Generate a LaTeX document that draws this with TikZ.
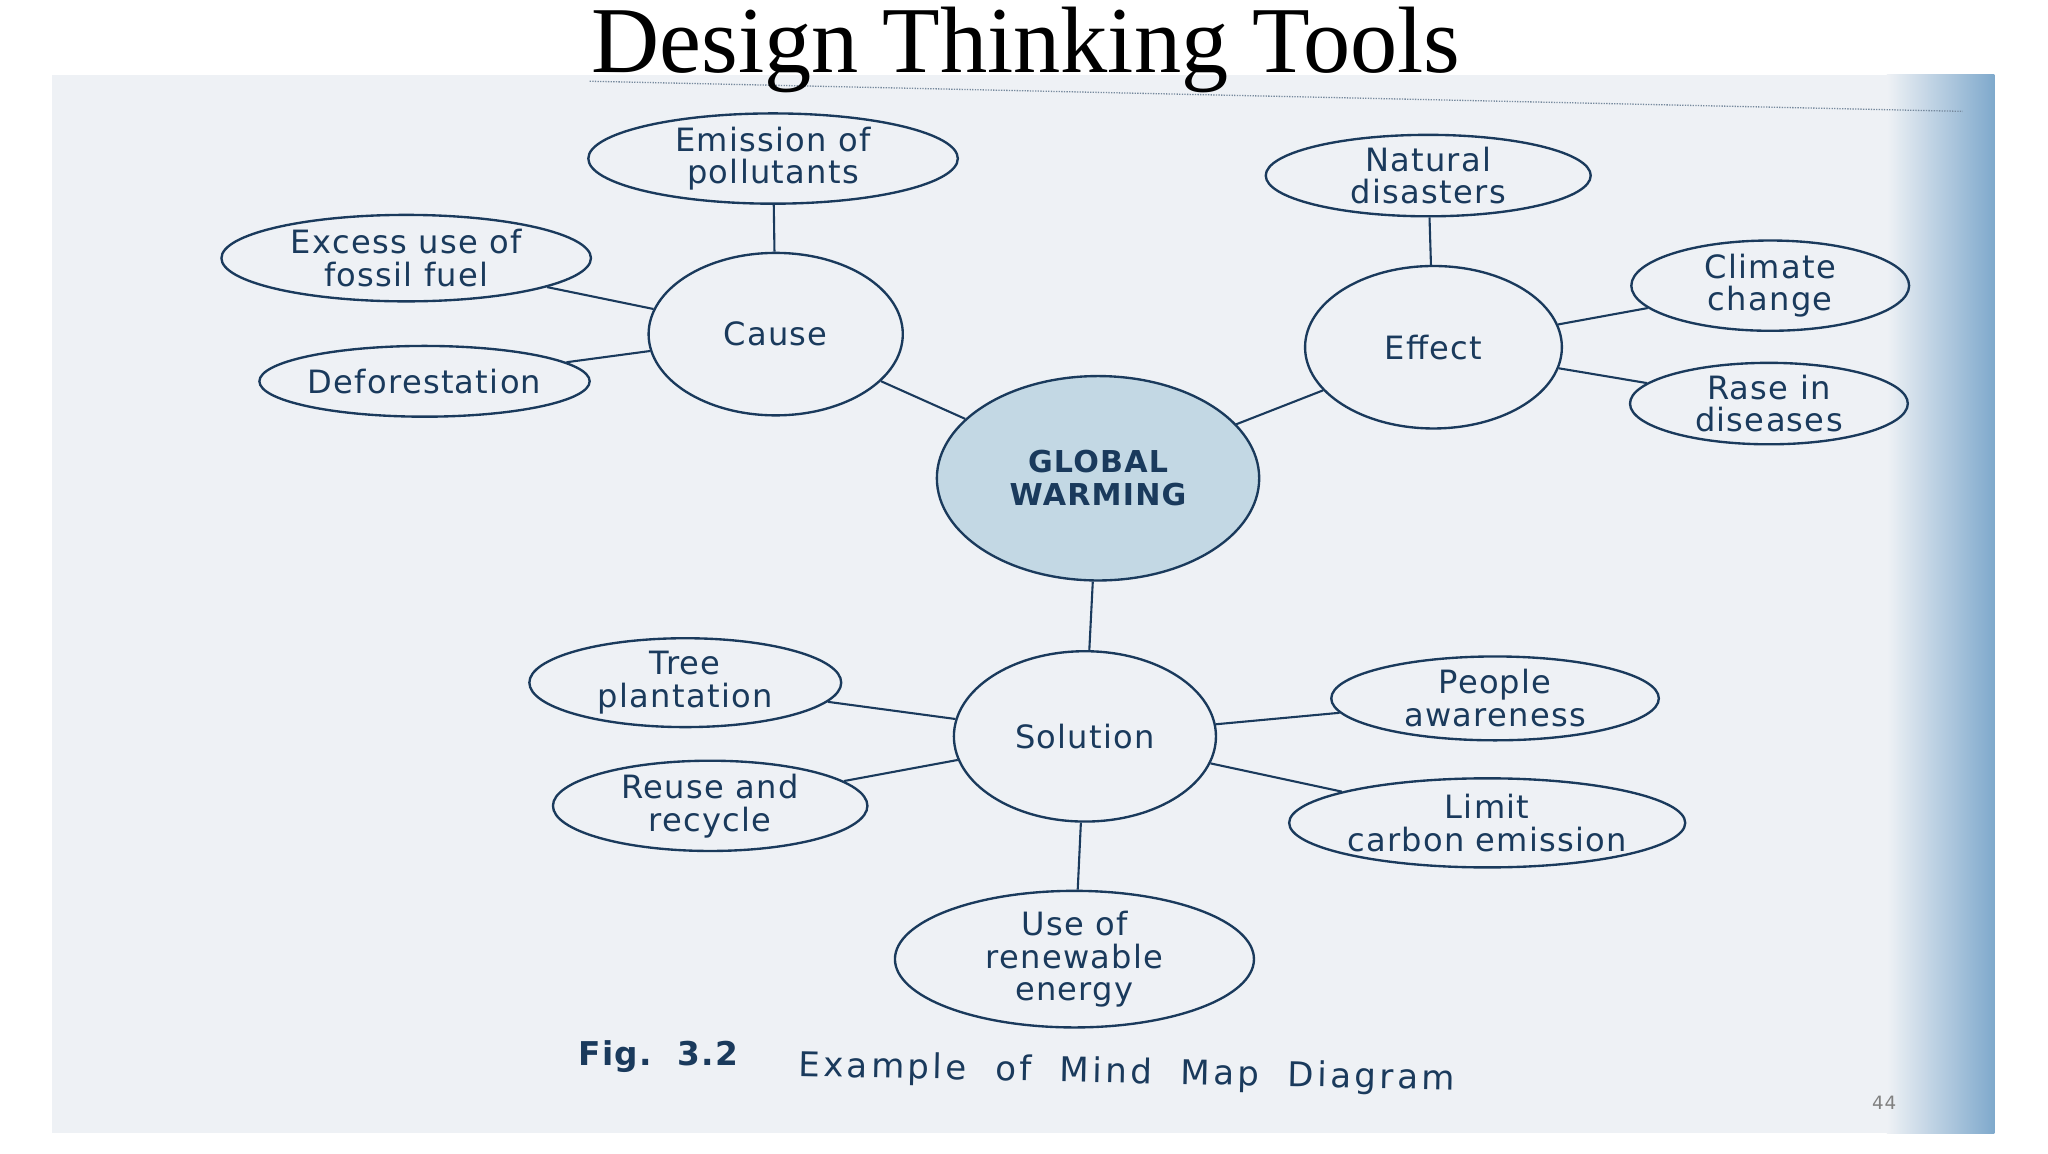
\documentclass[tikz,border=0pt]{standalone}
\usepackage{fontspec}
\setmainfont{DejaVu Sans}[LetterSpace=4]
\newfontfamily\titlefont{Liberation Serif}
\newfontfamily\capfont{DejaVu Sans}[LetterSpace=10]
\usetikzlibrary{shapes.geometric}
\definecolor{ink}{HTML}{1A3A5C}
\definecolor{paper}{HTML}{EEF1F5}
\definecolor{gw}{HTML}{C3D8E4}
\definecolor{edgeblue}{HTML}{7FA9CC}
\begin{document}
\begin{tikzpicture}[x=1pt,y=-1pt,
  el/.style={ellipse,draw=ink,line width=1.8pt,inner sep=0pt,align=center,
    font=\fontsize{24.5}{25}\selectfont,text=ink},
  ln/.style={draw=ink,line width=1.6pt}]
\useasboundingbox (0,0) rectangle (1563,880);
\fill[white] (0,0) rectangle (1563,880);
\fill[paper] (40,57) rectangle (1522,865);
\shade[left color=paper,right color=edgeblue] (1440,57) rectangle (1522,865);
\draw[ink!60,densely dotted,line width=1pt] (450,62) -- (1498,85);
\node[font=\titlefont\fontsize{72}{72}\selectfont,anchor=base] (title) at (783,55) {Design Thinking Tools};
\node[font=\fontsize{14}{14}\selectfont,text=gray] (pg) at (1438,842) {44};
% nodes
\node[el,minimum width=282,minimum height=64] (emi) at (590,121) {Emission of\\pollutants};
\node[el,minimum width=282,minimum height=66] (exc) at (310,197) {Excess use of\\fossil fuel};
\node[el,minimum width=238,minimum height=54] (def) at (324,291) {Deforestation};
\node[el,minimum width=194,minimum height=124] (cause) at (592,255) {Cause};
\node[el,minimum width=248,minimum height=56] (nat) at (1090,134) {Natural\\disasters};
\node[el,minimum width=196,minimum height=124] (eff) at (1094,265) {Effect};
\node[el,minimum width=212,minimum height=56] (cli) at (1351,218) {Climate\\change};
\node[el,minimum width=212,minimum height=56] (ras) at (1350,308) {Rase in\\diseases};
\node[el,fill=gw,minimum width=246,minimum height=156,font=\bfseries\fontsize{23}{25}\selectfont] (gwn) at (838,365) {GLOBAL\\WARMING};
\node[el,minimum width=200,minimum height=130] (sol) at (828,562) {Solution};
\node[el,minimum width=238,minimum height=62] (tree) at (523,521) {Tree\\plantation};
\node[el,minimum width=240,minimum height=68] (reu) at (542,615) {Reuse and\\recycle};
\node[el,minimum width=250,minimum height=64] (peo) at (1141,533) {People\\awareness};
\node[el,minimum width=288,minimum height=68] (lim) at (1135,628) {Limit\\carbon emission};
\node[el,minimum width=274,minimum height=92] (use) at (820,732) {Use of\\renewable\\energy};
% connectors
\draw[ln] (emi) -- (cause);
\draw[ln] (exc) -- (cause);
\draw[ln] (def) -- (cause);
\draw[ln] (cause) -- (gwn);
\draw[ln] (nat) -- (eff);
\draw[ln] (cli) -- (eff);
\draw[ln] (ras) -- (eff);
\draw[ln] (eff) -- (gwn);
\draw[ln] (gwn) -- (sol);
\draw[ln] (tree) -- (sol);
\draw[ln] (reu) -- (sol);
\draw[ln] (peo) -- (sol);
\draw[ln] (lim) -- (sol);
\draw[ln] (use) -- (sol);
% caption
\node[font=\bfseries\fontsize{25}{25}\selectfont,text=ink,anchor=west] (fig) at (438,806) {Fig.\ \ 3.2};
\node[font=\capfont\fontsize{26}{26}\selectfont,text=ink,anchor=west,rotate=-1.2] (cap) at (606,814) {Example\ \ of\ \ Mind\ \ Map\ \ Diagram};
\end{tikzpicture}
\end{document}
